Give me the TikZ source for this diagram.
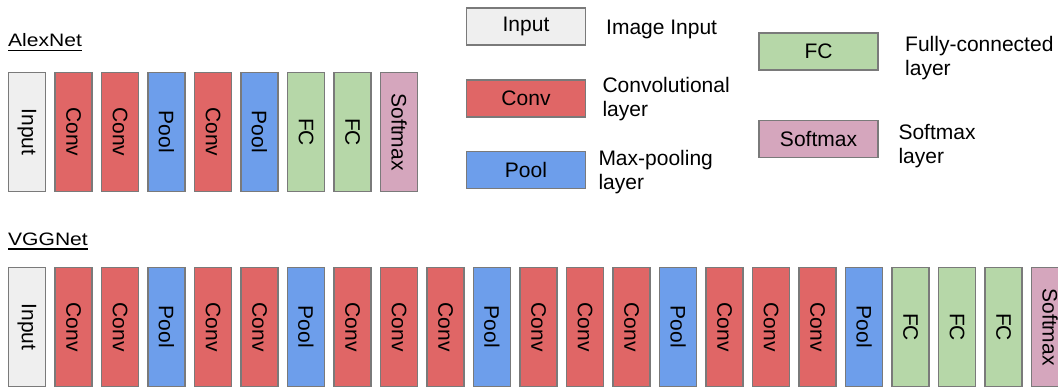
\documentclass[tikz,border=0pt]{standalone}
\usepackage{fontspec}
\setmainfont{Liberation Sans}

\definecolor{inputgray}{HTML}{EFEFEF}
\definecolor{convred}{HTML}{E06666}
\definecolor{poolblue}{HTML}{6D9EEB}
\definecolor{fcgreen}{HTML}{B6D7A8}
\definecolor{softpink}{HTML}{D5A6BD}
\definecolor{edgegray}{HTML}{7A7A7A}

\tikzset{
  layerbox/.style={draw=edgegray, line width=1.3pt, inner sep=0pt,
    minimum width=37pt, minimum height=119pt,
    font=\fontsize{21}{24}\selectfont},
  vlabel/.style={rotate=-90, inner sep=0pt, font=\fontsize{21}{24}\selectfont},
  keybox/.style={draw=edgegray, line width=1.3pt, inner sep=0pt,
    minimum width=119pt, minimum height=37pt,
    font=\fontsize{21}{24}\selectfont},
  keytext/.style={anchor=base west, inner sep=0pt, font=\fontsize{21}{24}\selectfont},
  nettitle/.style={anchor=base west, inner sep=0pt, font=\fontsize{18}{20}\selectfont},
  inputL/.style={layerbox, fill=inputgray},
  convL/.style={layerbox, fill=convred},
  poolL/.style={layerbox, fill=poolblue},
  fcL/.style={layerbox, fill=fcgreen},
  softL/.style={layerbox, fill=softpink},
}

\begin{document}
\begin{tikzpicture}[x=1pt, y=-1pt]
\clip (0,0) rectangle (1058,387);
\fill[white] (0,0) rectangle (1058,387);

% ---------- titles ----------
\node[nettitle] (alextitle) at (8,47) {\scalebox{1.17}[1]{AlexNet}};
\draw[line width=1.3pt] ([yshift=-3.6pt]alextitle.base west) -- ([yshift=-3.6pt]alextitle.base east);
\node[nettitle] (vggtitle) at (8,245.5) {\scalebox{1.17}[1]{VGGNet}};
\draw[line width=1.3pt] ([yshift=-3.6pt]vggtitle.base west) -- ([yshift=-3.6pt]vggtitle.base east);

% ---------- AlexNet ----------
\foreach \kind/\txt [count=\i from 0] in
  {inputL/Input, convL/Conv, convL/Conv, poolL/Pool, convL/Conv,
   poolL/Pool, fcL/FC, fcL/FC, softL/Softmax}
{
  \node[\kind] (alex\i) at (27+46.5*\i,132) {};
  \node[vlabel] (alexlbl\i) at (alex\i.center) {\txt};
}

% ---------- VGGNet ----------
\foreach \kind/\txt [count=\i from 0] in
  {inputL/Input, convL/Conv, convL/Conv, poolL/Pool, convL/Conv,
   convL/Conv, poolL/Pool, convL/Conv, convL/Conv, convL/Conv,
   poolL/Pool, convL/Conv, convL/Conv, convL/Conv, poolL/Pool,
   convL/Conv, convL/Conv, convL/Conv, poolL/Pool, fcL/FC,
   fcL/FC, fcL/FC, softL/Softmax}
{
  \node[\kind] (vgg\i) at (27+46.5*\i,327) {};
  \node[vlabel] (vgglbl\i) at (vgg\i.center) {\txt};
}

% ---------- key ----------
\node[keybox, fill=inputgray] (keyinput) at (526,26.5) {Input};
\node[keybox, fill=convred]   (keyconv)  at (526,98.5) {Conv};
\node[keybox, fill=poolblue]  (keypool)  at (526,170)  {Pool};
\node[keybox, fill=fcgreen]   (keyfc)    at (818.5,51.5) {FC};
\node[keybox, fill=softpink]  (keysoft)  at (818.5,139)  {Softmax};

\node[keytext] (descinput) at (606,34.3) {Image Input};
\node[keytext] (descconv)  at (602.3,92.3) {Convolutional};
\node[keytext] (descconvb) at (602.3,116.3) {layer};
\node[keytext] (descpool)  at (598.3,166) {Max-pooling};
\node[keytext] (descpoolb) at (598.3,190) {layer};
\node[keytext] (descfc)    at (905,51.7) {Fully-connected};
\node[keytext] (descfcb)   at (905,75.7) {layer};
\node[keytext] (descsoft)  at (898.3,139.3) {Softmax};
\node[keytext] (descsoftb) at (898.3,163.3) {layer};
\end{tikzpicture}
\end{document}
